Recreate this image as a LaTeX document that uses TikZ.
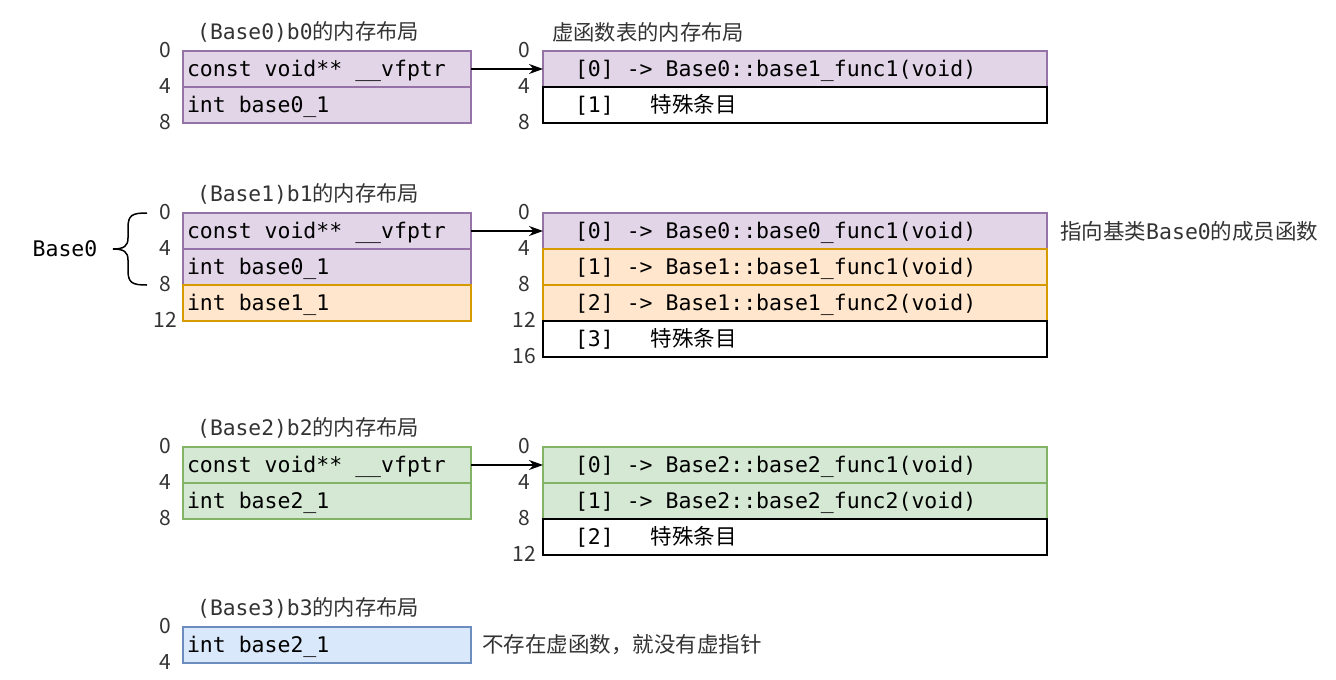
\documentclass[tikz,border=0pt]{standalone}
\usepackage{fontspec}
\setmainfont{Noto Sans CJK SC}
\setmonofont{DejaVu Sans Mono}
\usetikzlibrary{positioning,arrows.meta}
\definecolor{pfill}{HTML}{E1D5E7}
\definecolor{pline}{HTML}{9673A6}
\definecolor{ofill}{HTML}{FFE6CC}
\definecolor{oline}{HTML}{D79B00}
\definecolor{gfill}{HTML}{D5E8D4}
\definecolor{gline}{HTML}{82B366}
\definecolor{bfill}{HTML}{DAE8FC}
\definecolor{bline}{HTML}{6C8EBF}
\definecolor{tgray}{HTML}{333333}
\tikzset{
  cell/.style={draw, line width=1.5pt, outer sep=0pt, inner ysep=0pt,
    inner xsep=4pt, minimum height=36pt, text width=280pt, align=left,
    text height=18pt, text depth=4pt, anchor=north west,
    execute at begin node={\spaceskip=0pt\xspaceskip=0pt},
    font=\ttfamily\fontsize{21.5}{26}\selectfont},
  vcell/.style={cell, inner xsep=32pt, text width=440pt},
  purple/.style={fill=pfill, draw=pline},
  orange/.style={fill=ofill, draw=oline},
  green/.style={fill=gfill, draw=gline},
  blue/.style={fill=bfill, draw=bline},
  blank/.style={fill=white, draw=black},
  title/.style={anchor=west, inner sep=0pt, text=tgray,
    font=\fontsize{21.3}{26}\selectfont},
  note/.style={anchor=west, inner sep=0pt, text=tgray,
    font=\fontsize{21.5}{26}\selectfont},
  offs/.style={inner sep=0pt, text=tgray, font=\fontsize{21}{24}\selectfont},
  ptr/.style={line width=1.5pt, -{Stealth[length=14pt,width=10pt]}},
}
\begin{document}
\begin{tikzpicture}[x=1pt,y=-1pt]
  \useasboundingbox (0,0) rectangle (1336,680);
  % b0 与虚函数表
  \node[title] (t0) at (197,32) {\texttt{(Base0)b0}的内存布局};
  \node[cell, purple] (b0p) at (183,51) {const void** \_\_vfptr};
  \node[cell, purple, below=0pt of b0p] (b0i) {int base0\_1};
  \node[title] (tv) at (552,32) {虚函数表的内存布局};
  \node[vcell, purple] (v0a) at (543,51) {[0] -> Base0::base1\_func1(void)};
  \node[vcell, blank, below=0pt of v0a] (v0b) {[1]\hspace{37pt}{\rmfamily 特殊条目}};
  \draw[ptr] (b0p) -- (v0a);
  \foreach \n/\y in {0/51,4/87,8/123} {
    \node[offs] (o0l\n) at (165,\y-1) {\n};
    \node[offs] (o0r\n) at (524,\y-1) {\n};
  }
  % b1 与虚函数表
  \node[title] (t1) at (197,194) {\texttt{(Base1)b1}的内存布局};
  \node[cell, purple] (b1p) at (183,213) {const void** \_\_vfptr};
  \node[cell, purple, below=0pt of b1p] (b1i) {int base0\_1};
  \node[cell, orange, below=0pt of b1i] (b1j) {int base1\_1};
  \node[vcell, purple] (v1a) at (543,213) {[0] -> Base0::base0\_func1(void)};
  \node[vcell, orange, below=0pt of v1a] (v1b) {[1] -> Base1::base1\_func1(void)};
  \node[vcell, orange, below=0pt of v1b] (v1c) {[2] -> Base1::base1\_func2(void)};
  \node[vcell, blank, below=0pt of v1c] (v1d) {[3]\hspace{37pt}{\rmfamily 特殊条目}};
  \draw[ptr] (b1p) -- (v1a);
  \foreach \n/\y in {0/213,4/249,8/285,12/321} {
    \node[offs] (o1l\n) at (165,\y-1) {\n};
    \node[offs] (o1r\n) at (524,\y-1) {\n};
  }
  \node[offs] (o1r16) at (524,356) {16};
  \node[note] (n1) at (1060,231) {指向基类\texttt{Base0}的成员函数};
  % Base0 的大括号
  \node[font=\ttfamily\fontsize{21.5}{26}\selectfont] (lb0) at (65,249) {Base0};
  \draw[line width=1.5pt] (147,213) .. controls (132,213) and (128,215) .. (128,228)
      -- (128,238) .. controls (128,246) and (124,249) .. (113,249)
      .. controls (124,249) and (128,252) .. (128,260)
      -- (128,270) .. controls (128,283) and (132,285) .. (147,285);
  % b2 与虚函数表
  \node[title] (t2) at (197,428) {\texttt{(Base2)b2}的内存布局};
  \node[cell, green] (b2p) at (183,447) {const void** \_\_vfptr};
  \node[cell, green, below=0pt of b2p] (b2i) {int base2\_1};
  \node[vcell, green] (v2a) at (543,447) {[0] -> Base2::base2\_func1(void)};
  \node[vcell, green, below=0pt of v2a] (v2b) {[1] -> Base2::base2\_func2(void)};
  \node[vcell, blank, below=0pt of v2b] (v2c) {[2]\hspace{37pt}{\rmfamily 特殊条目}};
  \draw[ptr] (b2p) -- (v2a);
  \foreach \n/\y in {0/447,4/483,8/519} {
    \node[offs] (o2l\n) at (165,\y-1) {\n};
    \node[offs] (o2r\n) at (524,\y-1) {\n};
  }
  \node[offs] (o2r12) at (524,554) {12};
  % b3 没有虚指针
  \node[title] (t3) at (197,608) {\texttt{(Base3)b3}的内存布局};
  \node[cell, blue] (b3i) at (183,627) {int base2\_1};
  \foreach \n/\y in {0/627,4/663}
    \node[offs] (o3l\n) at (165,\y-1) {\n};
  \node[note] (n2) at (482,645) {不存在虚函数，就没有虚指针};
\end{tikzpicture}
\end{document}
